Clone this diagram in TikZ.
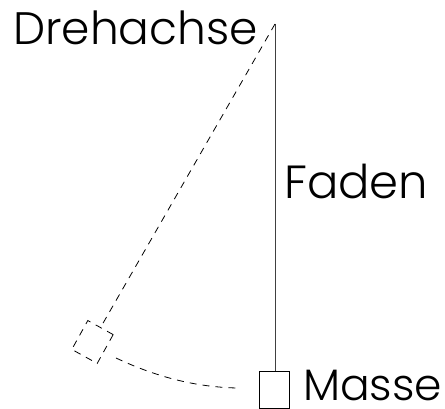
\documentclass[tikz,border=0pt]{standalone}
\usepackage{fontspec}
\setmainfont{Poppins Light}
\usepackage{tikz}
\tikzset{
    lbl/.style={font=\fontsize{#1}{#1}\selectfont, inner sep=0pt, text=black},
    gestrichelt/.style={line width=0.8pt, dash pattern=on 7pt off 6pt},
    gewicht/.style={draw, line width=0.9pt, inner sep=0pt, minimum width=30pt, minimum height=37pt}
}

\begin{document}
\begin{tikzpicture}[x=1pt, y=1pt]
    \useasboundingbox (0,0) rectangle (445,409);
    \coordinate (achse) at (275,385);
    \coordinate (bogenA) at (116,51);
    \coordinate (bogenB) at (237,21);
    \node[gewicht] (masse) at (274,19.5) {};
    \node[gewicht, gestrichelt, minimum width=29pt, minimum height=33pt, rotate=-29] (masseAlt) at (92.5,67) {};
    \draw[line width=1pt, black!75] (achse) -- (achse |- masse.north);
    \draw[gestrichelt] (achse) -- (masseAlt.north);
    \draw[gestrichelt] (bogenA) .. controls (150,35) and (190,22) .. (bogenB);
    \node[lbl=45.5, anchor=base east] (drehachse) at (258,364) {Drehachse};
    \node[lbl=46.5, anchor=base west] (faden) at (284,210) {Faden};
    \node[lbl=44, anchor=base west] (massetext) at (303,8) {Masse};
\end{tikzpicture}
\end{document}
